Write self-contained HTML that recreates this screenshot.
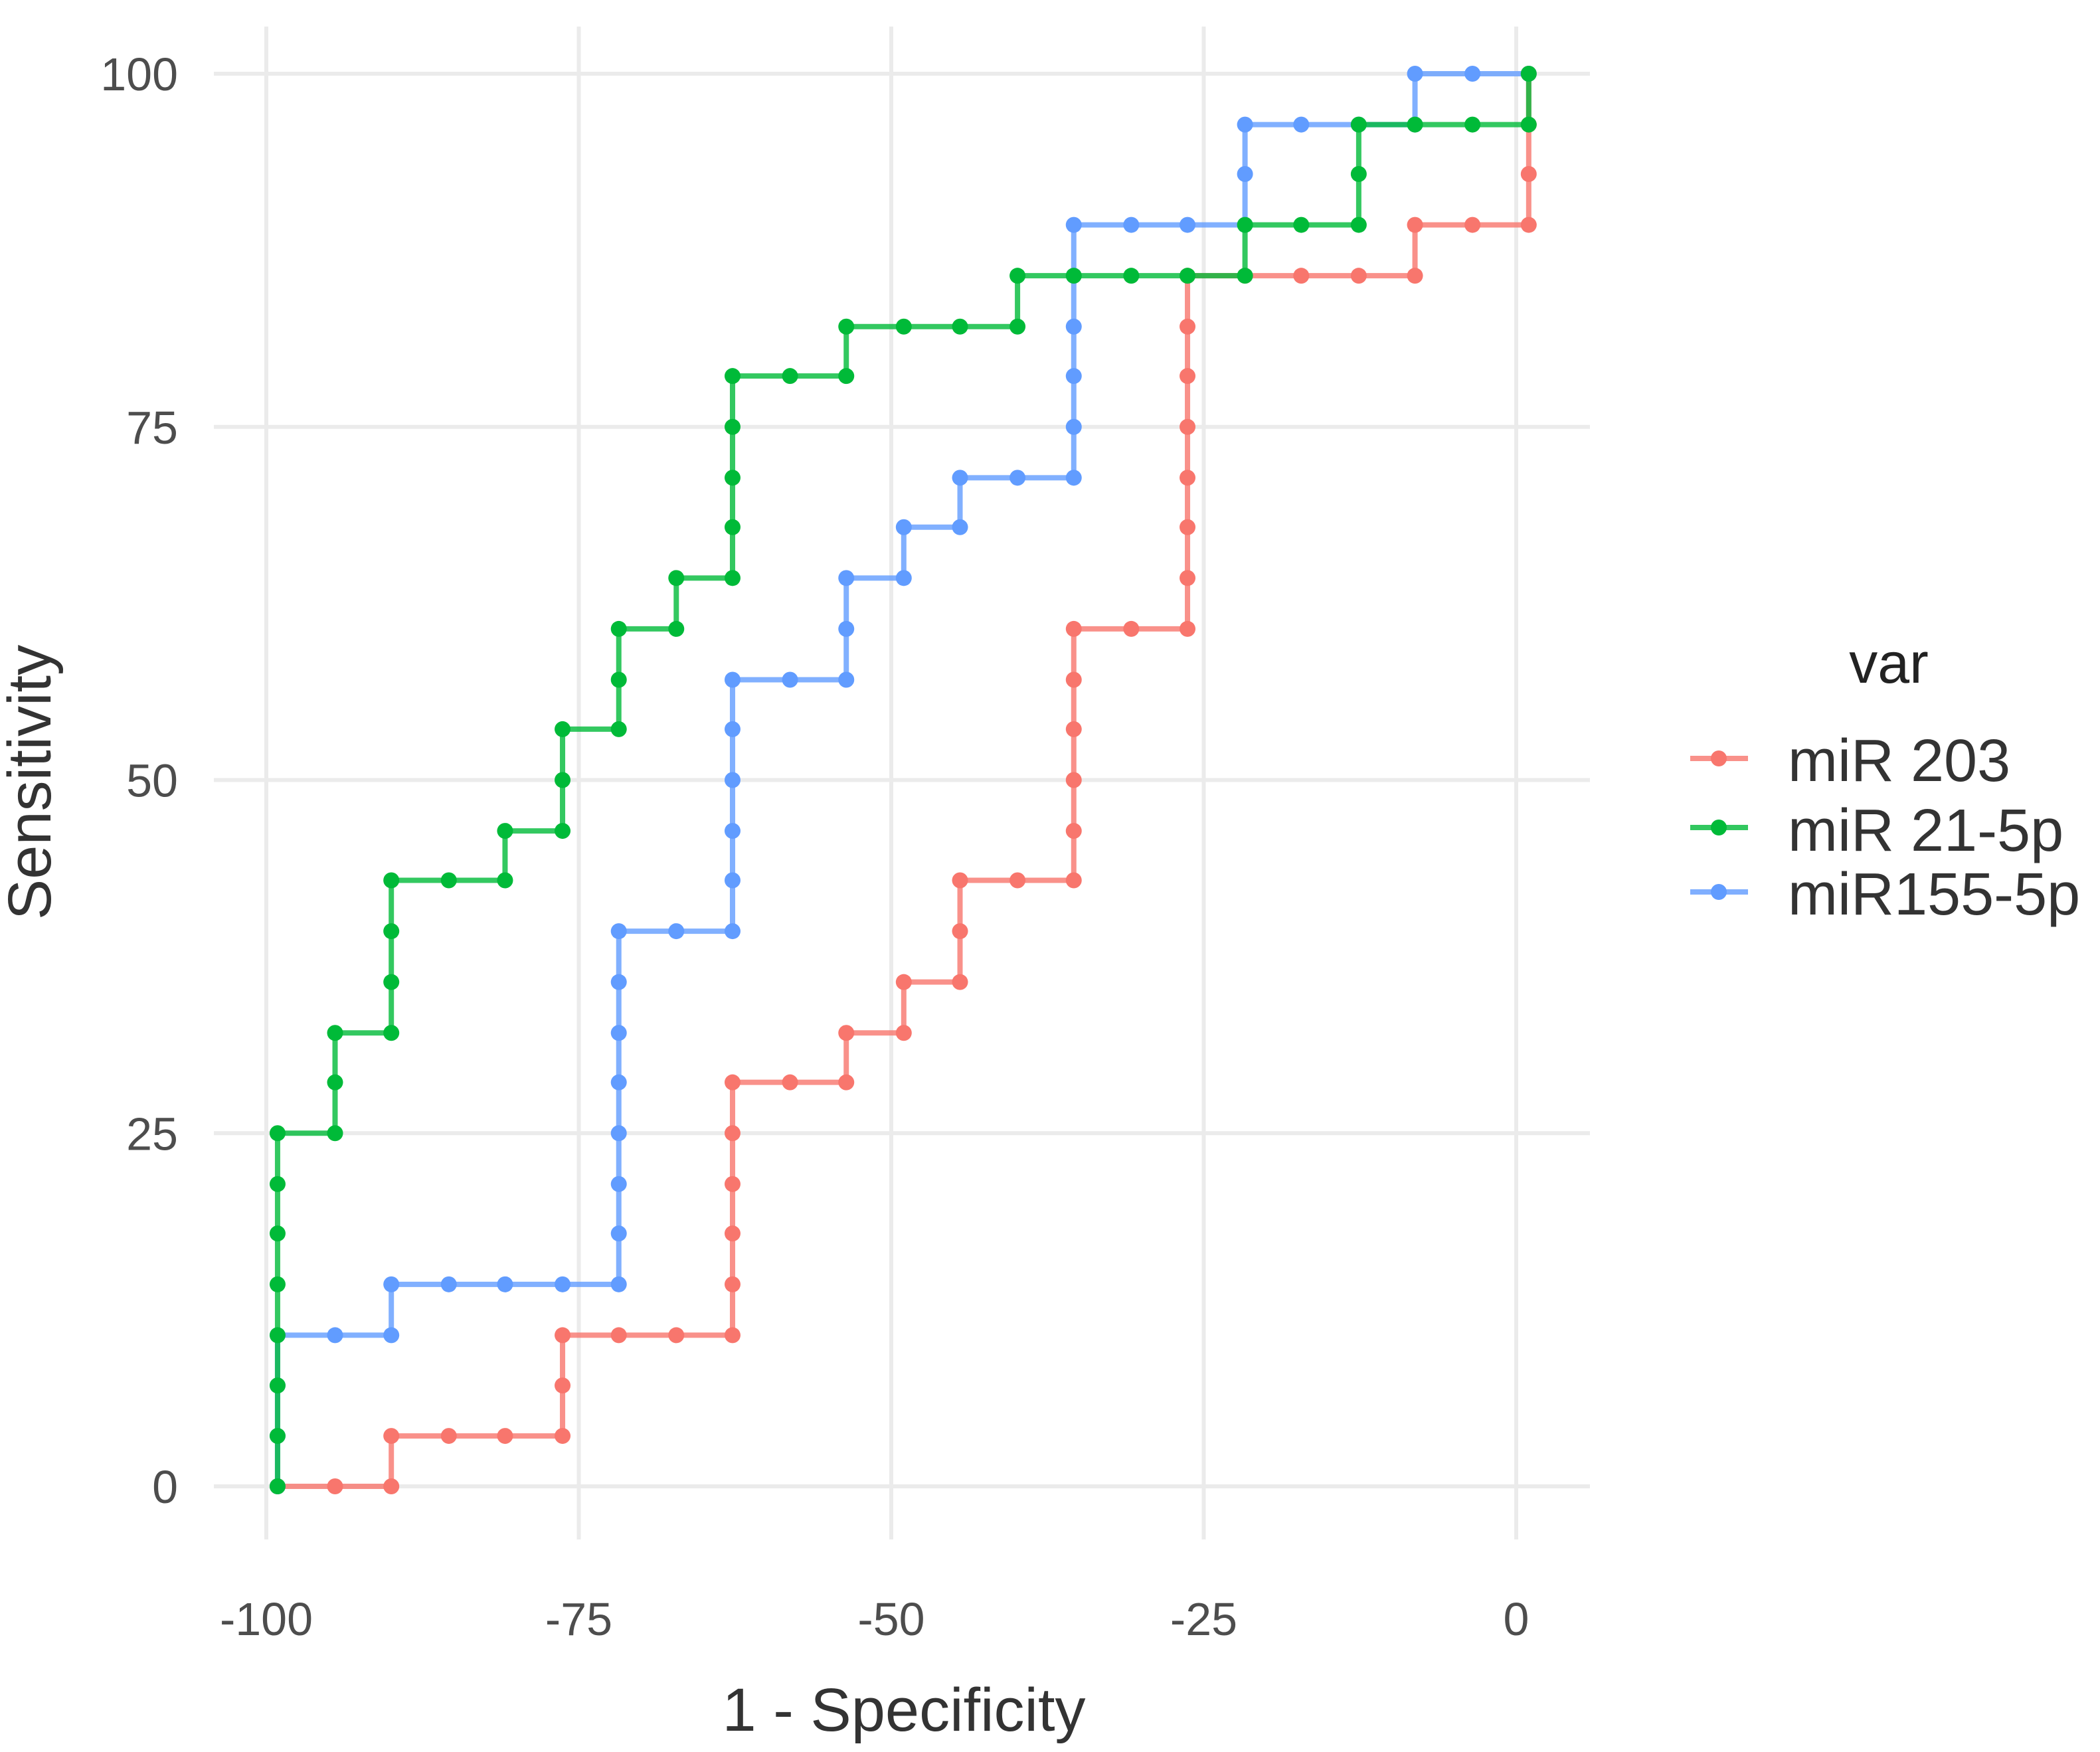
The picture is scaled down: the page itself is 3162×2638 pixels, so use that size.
<!DOCTYPE html>
<html><head><meta charset="utf-8"><style>
html,body{margin:0;padding:0;background:#fff;}
svg{display:block;font-family:"Liberation Sans",sans-serif;}
</style></head><body>
<svg id="chart" width="3162" height="2638" viewBox="0 0 3162 2638" xmlns="http://www.w3.org/2000/svg">
<g id="grid"></g>
<g id="series"></g>
<g id="axes"></g>
<text x="1361" y="2606" font-size="92" fill="#333" text-anchor="middle">1 - Specificity</text>
<text transform="translate(76,1178) rotate(-90)" font-size="92" fill="#333" text-anchor="middle">Sensitivity</text>
<g>
<text x="2844" y="1028" font-size="86" fill="#222" text-anchor="middle">var</text>
<g>
<line x1="2545" x2="2632" y1="1142" y2="1142" stroke="#F8766D" stroke-width="8" opacity="0.8"/><circle cx="2588" cy="1142" r="12" fill="#F8766D"/>
<text x="2692" y="1176" font-size="90" fill="#333">miR 203</text></g>
<g>
<line x1="2545" x2="2632" y1="1246" y2="1246" stroke="#00BA38" stroke-width="8" opacity="0.8"/><circle cx="2588" cy="1246" r="12" fill="#00BA38"/>
<text x="2692" y="1281" font-size="90" fill="#333">miR 21-5p</text></g>
<g>
<line x1="2545" x2="2632" y1="1343" y2="1343" stroke="#619CFF" stroke-width="8" opacity="0.8"/><circle cx="2588" cy="1343" r="12" fill="#619CFF"/>
<text x="2692" y="1377" font-size="90" fill="#333">miR155-5p</text></g>
</g>
</svg>
<script>
const xTicks=[-100,-75,-50,-25,0];
const yTicks=[0,25,50,75,100];
const redX=[-99.1,-94.5,-90.0,-90.0,-85.4,-80.9,-76.3,-76.3,-76.3,-71.8,-67.2,-62.7,-62.7,-62.7,-62.7,-62.7,-62.7,-58.1,-53.6,-53.6,-49.0,-49.0,-44.5,-44.5,-44.5,-39.9,-35.4,-35.4,-35.4,-35.4,-35.4,-35.4,-30.8,-26.3,-26.3,-26.3,-26.3,-26.3,-26.3,-26.3,-26.3,-21.7,-17.2,-12.6,-8.1,-8.1,-3.5,1.0,1.0,1.0,1.0];
const redY=[0,0,0,3.57,3.57,3.57,3.57,7.14,10.7,10.7,10.7,10.7,14.3,17.9,21.4,25,28.6,28.6,28.6,32.1,32.1,35.7,35.7,39.3,42.9,42.9,42.9,46.4,50,53.6,57.1,60.7,60.7,60.7,64.3,67.9,71.4,75,78.6,82.1,85.7,85.7,85.7,85.7,85.7,89.3,89.3,89.3,92.9,96.4,100];
const greenX=[-99.1,-99.1,-99.1,-99.1,-99.1,-99.1,-99.1,-99.1,-94.5,-94.5,-94.5,-90.0,-90.0,-90.0,-90.0,-85.4,-80.9,-80.9,-76.3,-76.3,-76.3,-71.8,-71.8,-71.8,-67.2,-67.2,-62.7,-62.7,-62.7,-62.7,-62.7,-58.1,-53.6,-53.6,-49.0,-44.5,-39.9,-39.9,-35.4,-30.8,-26.3,-21.7,-21.7,-17.2,-12.6,-12.6,-12.6,-8.1,-3.5,1.0,1.0];
const greenY=[0,3.57,7.14,10.7,14.3,17.9,21.4,25,25,28.6,32.1,32.1,35.7,39.3,42.9,42.9,42.9,46.4,46.4,50,53.6,53.6,57.1,60.7,60.7,64.3,64.3,67.9,71.4,75,78.6,78.6,78.6,82.1,82.1,82.1,82.1,85.7,85.7,85.7,85.7,85.7,89.3,89.3,89.3,92.9,96.4,96.4,96.4,96.4,100];
const blueX=[-99.1,-99.1,-99.1,-99.1,-94.5,-90.0,-90.0,-85.4,-80.9,-76.3,-71.8,-71.8,-71.8,-71.8,-71.8,-71.8,-71.8,-71.8,-67.2,-62.7,-62.7,-62.7,-62.7,-62.7,-62.7,-58.1,-53.6,-53.6,-53.6,-49.0,-49.0,-44.5,-44.5,-39.9,-35.4,-35.4,-35.4,-35.4,-35.4,-35.4,-30.8,-26.3,-21.7,-21.7,-21.7,-17.2,-12.6,-8.1,-8.1,-3.5,1.0];
const blueY=[0,3.57,7.14,10.7,10.7,10.7,14.3,14.3,14.3,14.3,14.3,17.9,21.4,25,28.6,32.1,35.7,39.3,39.3,39.3,42.9,46.4,50,53.6,57.1,57.1,57.1,60.7,64.3,64.3,67.9,67.9,71.4,71.4,71.4,75,78.6,82.1,85.7,89.3,89.3,89.3,89.3,92.9,96.4,96.4,96.4,96.4,100,100,100];
const NS="http://www.w3.org/2000/svg";
const X0=401,X1=2283,Y0=2238,Y1=111;
function sx(v){return X0+(v+100)/100*(X1-X0);}
function sy(v){return Y0-v/100*(Y0-Y1);}
const grid=document.getElementById('grid'),axes=document.getElementById('axes'),ser=document.getElementById('series');
function mk(tag,attrs,parent){const e=document.createElementNS(NS,tag);for(const k in attrs)e.setAttribute(k,attrs[k]);parent.appendChild(e);return e;}
xTicks.forEach(t=>{
  const l=mk('line',{x1:sx(t),x2:sx(t),y1:40,y2:2318,stroke:'#ebebeb','stroke-width':6},grid);
  
  
  const tx=mk('text',{x:sx(t),y:2462,'font-size':70,fill:'#4d4d4d','text-anchor':'middle'},axes);
  tx.textContent=t;
  
  
});
yTicks.forEach(t=>{
  const l=mk('line',{x1:322,x2:2394,y1:sy(t),y2:sy(t),stroke:'#ebebeb','stroke-width':6},grid);
  
  
  const tx=mk('text',{x:268,y:sy(t)+25,'font-size':70,fill:'#4d4d4d','text-anchor':'end'},axes);
  tx.textContent=t;
  
  
});
function drawSeries(xs,ys,color,name){
  const g=mk('g',{},ser);
  
  
  let d='';xs.forEach((x,i)=>{d+=(i?'L':'M')+sx(x)+' '+sy(ys[i]);});
  const p=mk('path',{d:d,fill:'none',stroke:color,'stroke-width':8,opacity:0.8,'stroke-linejoin':'round'},g);
  
  
  xs.forEach((x,i)=>{
    const c=mk('circle',{cx:sx(x),cy:sy(ys[i]),r:12,fill:color},g);
    
    
  });
}
drawSeries(redX,redY,'#F8766D','series-mir203');
drawSeries(blueX,blueY,'#619CFF','series-mir155-5p');
drawSeries(greenX,greenY,'#00BA38','series-mir21-5p');
</script>
</body></html>
